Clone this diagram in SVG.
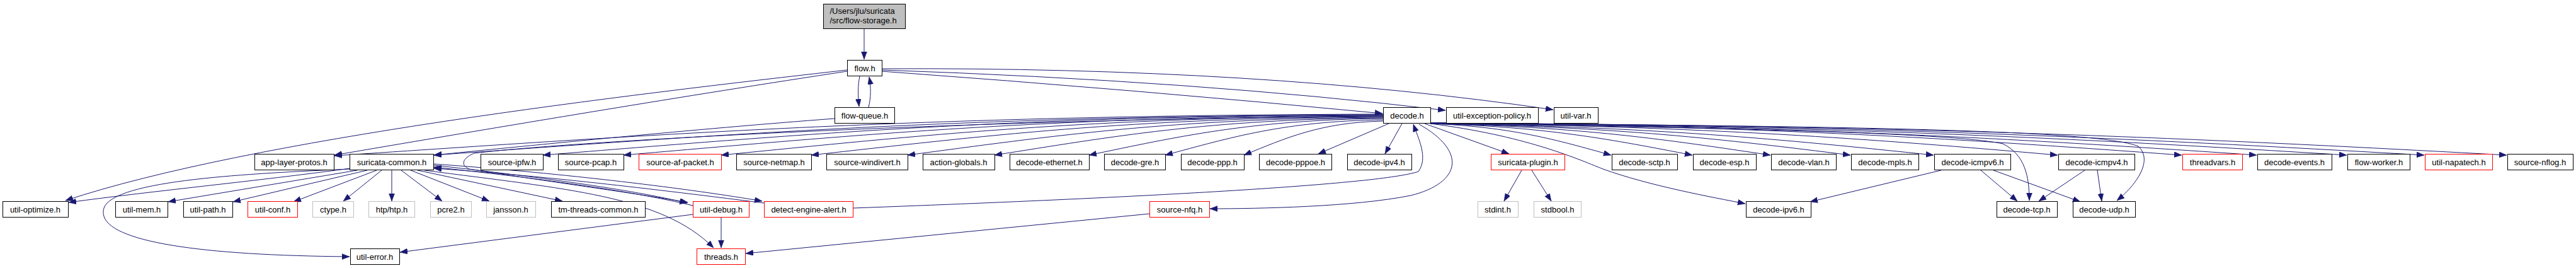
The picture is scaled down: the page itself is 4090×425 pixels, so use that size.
<svg xmlns="http://www.w3.org/2000/svg" width="4090" height="425" viewBox="0 0 4090 425">
<style>
.n rect{fill:#fff;stroke:#000;stroke-width:1}
.r rect{fill:#fff;stroke:#ff0000;stroke-width:1}
.g rect{fill:#fff;stroke:#bfbfbf;stroke-width:1}
.root rect{fill:#bfbfbf;stroke:#000;stroke-width:1}
text{font-family:"Liberation Sans",Arial,Helvetica,sans-serif;font-size:13px;fill:#000;text-anchor:middle}
.root text{text-anchor:start}
#edges path{fill:none;stroke:#191970;stroke-width:1;marker-end:url(#ah)}
</style>
<defs>
<marker id="ah" markerUnits="userSpaceOnUse" markerWidth="12" markerHeight="10" refX="12" refY="4.5" orient="auto">
<path d="M0,0 L12,4.5 L0,9 z" fill="#191970" stroke="#191970" stroke-width="0.5"/>
</marker>
</defs>
<rect width="4090" height="425" fill="#fff"/>
<g id="edges">
<path d="M1372,46 L1372,94"/>
<path d="M1365,121 C1362,135 1362,150 1364,169"/>
<path d="M1379,170 C1383,155 1383,138 1380,122"/>
<path d="M1400,113 Q1800,142 2195,180"/>
<path d="M1400,111 Q1900,128 2295,175"/>
<path d="M1400,109 Q2000,106 2466,174"/>
<path d="M1345,111 C1000,150 400,220 104,318"/>
<path d="M1345,113 C1100,150 800,200 531,246"/>
<path d="M1325,188 C1100,205 850,230 689,246"/>
<path d="M2196,181 C1447,183 1030,214 531,247"/>
<path d="M2196,182 C1518,184 1141,214 689,246"/>
<path d="M2196,182 C1596,184 1262,214 862,246"/>
<path d="M2196,183 C1653,185 1352,215 990,246"/>
<path d="M2196,184 C1723,186 1460,215 1145,246"/>
<path d="M2196,185 C1787,187 1560,216 1288,246"/>
<path d="M2196,186 C1856,188 1668,216 1441,246"/>
<path d="M2196,187 C1918,189 1764,217 1579,246"/>
<path d="M2196,188 C1986,190 1869,217 1729,246"/>
<path d="M2196,190 C2040,192 1954,218 1850,246"/>
<path d="M2196,192 C2097,194 2041,219 1975,246"/>
<path d="M2205,196 L2093,244"/>
<path d="M2226,196 L2199,244"/>
<path d="M2196,184 C1500,190 900,225 753,243 C735,250 730,262 745,268 C850,285 1000,305 1092,321"/>
<path d="M2262,196 L2396,244"/>
<path d="M2271,196 C2400,201 2472,222 2558,246"/>
<path d="M2271,196 C2458,201 2562,222 2687,246"/>
<path d="M2271,196 C2514,201 2649,222 2811,246"/>
<path d="M2271,196 C2571,201 2738,221 2938,246"/>
<path d="M2271,196 C2631,201 2830,221 3070,246"/>
<path d="M2271,195 C2719,201 2968,220 3267,246"/>
<path d="M2271,195 C2808,200 3106,220 3464,246"/>
<path d="M2271,195 C2861,200 3189,219 3583,246"/>
<path d="M2271,195 C2926,200 3289,219 3726,246"/>
<path d="M2271,195 C2981,199 3376,219 3849,246"/>
<path d="M2271,195 C3040,199 3467,218 3980,246"/>
<path d="M2271,196 C2420,215 2500,250 2545,268 C2620,295 2720,313 2771,323"/>
<path d="M2271,196 C2700,202 3100,210 3180,228 C3215,245 3222,280 3222,318"/>
<path d="M2271,195 C2900,200 3330,205 3395,232 C3420,255 3390,295 3361,318"/>
<path d="M2416,270 L2388,319"/>
<path d="M2432,270 L2463,319"/>
<path d="M3082,270 L2874,320"/>
<path d="M3145,270 L3203,319"/>
<path d="M3165,270 L3303,320"/>
<path d="M3310,270 L3237,319"/>
<path d="M3330,270 L3337,319"/>
<path d="M556,267 C400,288 250,302 109,321"/>
<path d="M567,270 L267,320"/>
<path d="M583,270 L370,320"/>
<path d="M598,270 L466,320"/>
<path d="M606,270 L545,319"/>
<path d="M622,270 L622,319"/>
<path d="M637,270 L702,319"/>
<path d="M652,270 L777,319"/>
<path d="M663,270 L893,319"/>
<path d="M674,270 C900,300 1050,310 1133,393"/>
<path d="M556,268 C400,275 180,285 165,330 C150,380 300,405 555,407"/>
<path d="M689,262 C850,280 1000,300 1091,322"/>
<path d="M689,260 C900,275 1100,300 1210,319"/>
<path d="M1100,326 C1000,302 850,282 689,265"/>
<path d="M1213,322 C1000,295 850,278 689,267"/>
<path d="M1354,330 C1900,310 2200,290 2252,272 C2268,250 2252,220 2244,197"/>
<path d="M2253,197 C2330,240 2320,290 2240,310 C2150,328 2000,331 1921,331"/>
<path d="M1825,339 L1184,402"/>
<path d="M1145,345 L1145,393"/>
<path d="M1100,340 L635,400"/>
</g>
<g id="n-root" class="root"><rect x="1307.5" y="6.5" width="130" height="39"/><text x="1317.5" y="21.5">/Users/jlu/suricata</text><text x="1317.5" y="36.5">/src/flow-storage.h</text></g>
<g id="n-flow" class="n"><rect x="1345.5" y="95.5" width="55" height="25"/><text x="1373" y="113">flow.h</text></g>
<g id="n-flow-queue" class="n"><rect x="1325.5" y="170.5" width="95" height="25"/><text x="1373" y="188">flow-queue.h</text></g>
<g id="n-decode" class="n"><rect x="2196.5" y="170.5" width="75" height="25"/><text x="2234" y="188">decode.h</text></g>
<g id="n-util-exception-policy" class="n"><rect x="2296.5" y="170.5" width="146" height="25"/><text x="2369" y="188">util-exception-policy.h</text></g>
<g id="n-util-var" class="n"><rect x="2467.5" y="170.5" width="70" height="25"/><text x="2502" y="188">util-var.h</text></g>
<g id="n-app-layer-protos" class="n"><rect x="404.5" y="244.5" width="126" height="25"/><text x="467" y="262">app-layer-protos.h</text></g>
<g id="n-suricata-common" class="n"><rect x="555.5" y="244.5" width="133" height="25"/><text x="622" y="262">suricata-common.h</text></g>
<g id="n-source-ipfw" class="n"><rect x="763.5" y="244.5" width="99" height="25"/><text x="813" y="262">source-ipfw.h</text></g>
<g id="n-source-pcap" class="n"><rect x="886.5" y="244.5" width="104" height="25"/><text x="938" y="262">source-pcap.h</text></g>
<g id="n-source-af-packet" class="r"><rect x="1014.5" y="244.5" width="131" height="25"/><text x="1080" y="262">source-af-packet.h</text></g>
<g id="n-source-netmap" class="n"><rect x="1169.5" y="244.5" width="119" height="25"/><text x="1229" y="262">source-netmap.h</text></g>
<g id="n-source-windivert" class="n"><rect x="1312.5" y="244.5" width="129" height="25"/><text x="1377" y="262">source-windivert.h</text></g>
<g id="n-action-globals" class="n"><rect x="1465.5" y="244.5" width="114" height="25"/><text x="1522" y="262">action-globals.h</text></g>
<g id="n-decode-ethernet" class="n"><rect x="1603.5" y="244.5" width="126" height="25"/><text x="1666" y="262">decode-ethernet.h</text></g>
<g id="n-decode-gre" class="n"><rect x="1753.5" y="244.5" width="97" height="25"/><text x="1802" y="262">decode-gre.h</text></g>
<g id="n-decode-ppp" class="n"><rect x="1875.5" y="244.5" width="100" height="25"/><text x="1925" y="262">decode-ppp.h</text></g>
<g id="n-decode-pppoe" class="n"><rect x="1999.5" y="244.5" width="115" height="25"/><text x="2057" y="262">decode-pppoe.h</text></g>
<g id="n-decode-ipv4" class="n"><rect x="2139.5" y="244.5" width="102" height="25"/><text x="2190" y="262">decode-ipv4.h</text></g>
<g id="n-suricata-plugin" class="r"><rect x="2367.5" y="244.5" width="117" height="25"/><text x="2426" y="262">suricata-plugin.h</text></g>
<g id="n-decode-sctp" class="n"><rect x="2559.5" y="244.5" width="104" height="25"/><text x="2611" y="262">decode-sctp.h</text></g>
<g id="n-decode-esp" class="n"><rect x="2688.5" y="244.5" width="100" height="25"/><text x="2738" y="262">decode-esp.h</text></g>
<g id="n-decode-vlan" class="n"><rect x="2812.5" y="244.5" width="103" height="25"/><text x="2864" y="262">decode-vlan.h</text></g>
<g id="n-decode-mpls" class="n"><rect x="2939.5" y="244.5" width="107" height="25"/><text x="2993" y="262">decode-mpls.h</text></g>
<g id="n-decode-icmpv6" class="n"><rect x="3071.5" y="244.5" width="121" height="25"/><text x="3132" y="262">decode-icmpv6.h</text></g>
<g id="n-decode-icmpv4" class="n"><rect x="3268.5" y="244.5" width="121" height="25"/><text x="3329" y="262">decode-icmpv4.h</text></g>
<g id="n-threadvars" class="r"><rect x="3465.5" y="244.5" width="95" height="25"/><text x="3513" y="262">threadvars.h</text></g>
<g id="n-decode-events" class="n"><rect x="3584.5" y="244.5" width="118" height="25"/><text x="3643" y="262">decode-events.h</text></g>
<g id="n-flow-worker" class="n"><rect x="3727.5" y="244.5" width="99" height="25"/><text x="3777" y="262">flow-worker.h</text></g>
<g id="n-util-napatech" class="r"><rect x="3850.5" y="244.5" width="107" height="25"/><text x="3904" y="262">util-napatech.h</text></g>
<g id="n-source-nflog" class="n"><rect x="3981.5" y="244.5" width="104" height="25"/><text x="4033" y="262">source-nflog.h</text></g>
<g id="n-util-optimize" class="n"><rect x="4.5" y="319.5" width="104" height="25"/><text x="56" y="337">util-optimize.h</text></g>
<g id="n-util-mem" class="n"><rect x="183.5" y="319.5" width="83" height="25"/><text x="225" y="337">util-mem.h</text></g>
<g id="n-util-path" class="n"><rect x="291.5" y="319.5" width="78" height="25"/><text x="330" y="337">util-path.h</text></g>
<g id="n-util-conf" class="r"><rect x="393.5" y="319.5" width="79" height="25"/><text x="433" y="337">util-conf.h</text></g>
<g id="n-ctype" class="g"><rect x="496.5" y="319.5" width="65" height="25"/><text x="529" y="337">ctype.h</text></g>
<g id="n-htp" class="g"><rect x="585.5" y="319.5" width="73" height="25"/><text x="622" y="337">htp/htp.h</text></g>
<g id="n-pcre2" class="g"><rect x="683.5" y="319.5" width="65" height="25"/><text x="716" y="337">pcre2.h</text></g>
<g id="n-jansson" class="g"><rect x="772.5" y="319.5" width="78" height="25"/><text x="811" y="337">jansson.h</text></g>
<g id="n-tm-threads-common" class="n"><rect x="875.5" y="319.5" width="149" height="25"/><text x="950" y="337">tm-threads-common.h</text></g>
<g id="n-util-debug" class="r"><rect x="1100.5" y="319.5" width="89" height="25"/><text x="1145" y="337">util-debug.h</text></g>
<g id="n-detect-engine-alert" class="r"><rect x="1213.5" y="319.5" width="141" height="25"/><text x="1284" y="337">detect-engine-alert.h</text></g>
<g id="n-source-nfq" class="r"><rect x="1825.5" y="319.5" width="95" height="25"/><text x="1873" y="337">source-nfq.h</text></g>
<g id="n-stdint" class="g"><rect x="2346.5" y="319.5" width="64" height="25"/><text x="2378" y="337">stdint.h</text></g>
<g id="n-stdbool" class="g"><rect x="2435.5" y="319.5" width="75" height="25"/><text x="2473" y="337">stdbool.h</text></g>
<g id="n-decode-ipv6" class="n"><rect x="2772.5" y="319.5" width="103" height="25"/><text x="2824" y="337">decode-ipv6.h</text></g>
<g id="n-decode-tcp" class="n"><rect x="3170.5" y="319.5" width="96" height="25"/><text x="3218" y="337">decode-tcp.h</text></g>
<g id="n-decode-udp" class="n"><rect x="3291.5" y="319.5" width="99" height="25"/><text x="3341" y="337">decode-udp.h</text></g>
<g id="n-util-error" class="n"><rect x="556.5" y="394.5" width="78" height="25"/><text x="595" y="412">util-error.h</text></g>
<g id="n-threads" class="r"><rect x="1106.5" y="394.5" width="77" height="25"/><text x="1145" y="412">threads.h</text></g>
</svg>
